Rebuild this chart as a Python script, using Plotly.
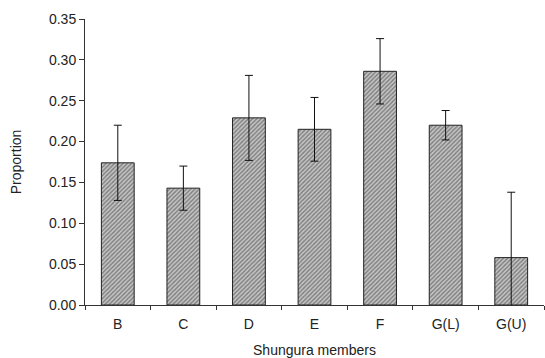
import plotly.graph_objects as go

members = ["B", "C", "D", "E", "F", "G(L)", "G(U)"]
proportion = [0.174, 0.143, 0.229, 0.215, 0.286, 0.220, 0.058]
err = [0.046, 0.027, 0.052, 0.039, 0.040, 0.018, 0.080]
yticks = [0.0, 0.05, 0.10, 0.15, 0.20, 0.25, 0.30, 0.35]

fig = go.Figure(go.Bar(
    x=members, y=proportion, width=0.5,
    marker=dict(color="#c8c8c8", line=dict(color="#222", width=1),
                pattern=dict(shape="/", fgcolor="#3a3a3a", bgcolor="#c8c8c8", size=3, solidity=0.5)),
    error_y=dict(type="data", array=err, visible=True, color="#111", thickness=1, width=4),
))

fig.update_layout(
    width=545, height=358, margin=dict(l=85, r=1, t=19, b=53),
    paper_bgcolor="white", plot_bgcolor="white", showlegend=False,
    font=dict(family="Liberation Sans, Arial", size=14, color="#222"),
)
fig.update_xaxes(range=[-0.5, 6.5], showline=True, linecolor="#333", linewidth=1,
                 ticks="outside", tickson="boundaries", ticklen=4, tickcolor="#333",
                 ticklabelstandoff=6,
                 title=dict(text="Shungura members", font=dict(size=14), standoff=16))
fig.update_yaxes(range=[0, 0.35], tickvals=yticks, ticktext=[f"{v:.2f}" for v in yticks],
                 showline=True, linecolor="#333", linewidth=1, showgrid=False, zeroline=False,
                 ticks="outside", ticklen=5, tickcolor="#333",
                 title=dict(text="Proportion", font=dict(size=14), standoff=24))

fig.write_html("out.html")
